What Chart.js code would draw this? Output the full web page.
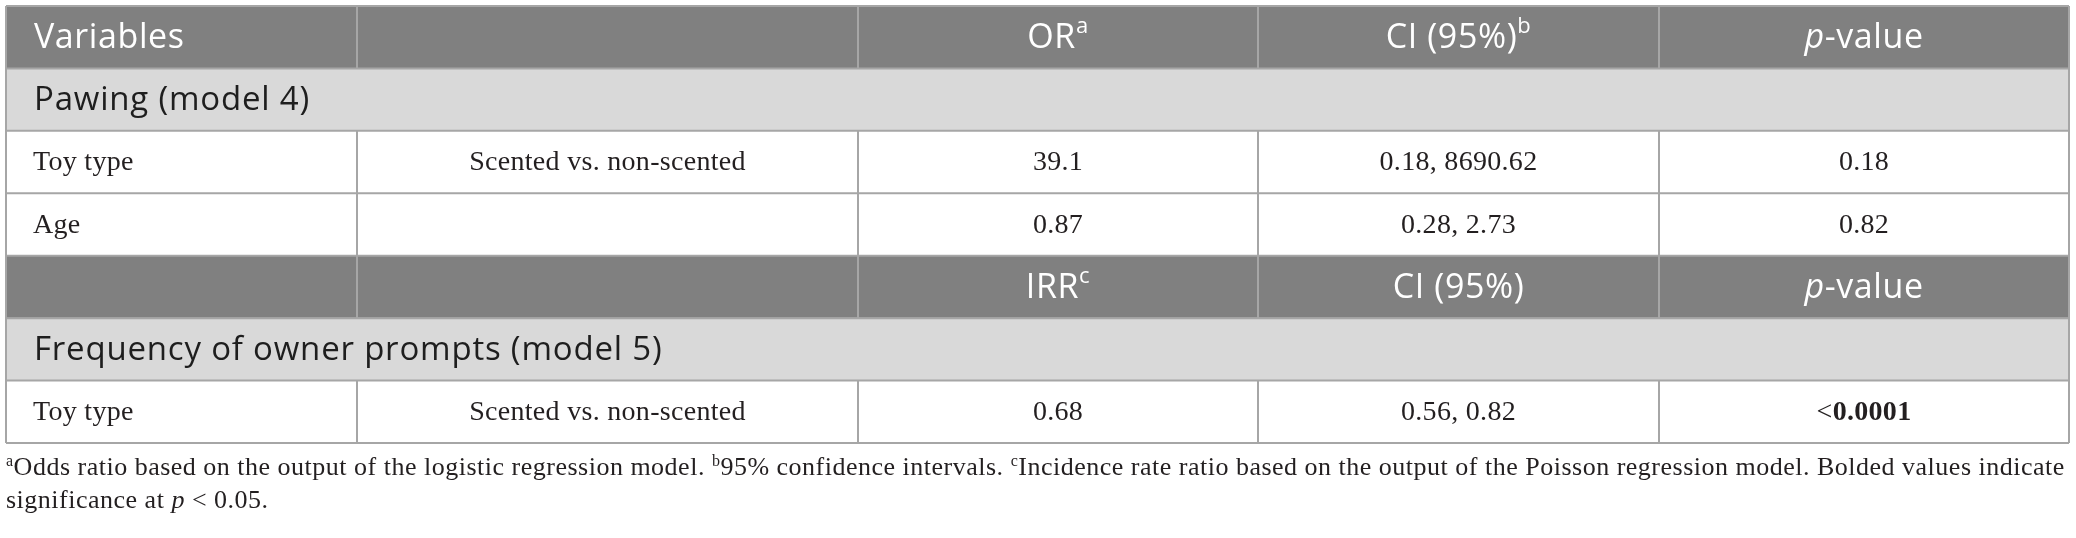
<!DOCTYPE html>
<html>
<head>
<meta charset="utf-8">
<script src="https://cdn.jsdelivr.net/npm/chart.js@4.4.1/dist/chart.umd.min.js"></script>
<style>
  html, body { margin: 0; padding: 0; background: #ffffff; }
  #wrap { position: relative; width: 2076px; height: 538px; }
  #chart { position: absolute; left: 0; top: 0; }
  #notes { position: absolute; left: 6px; top: 450px; width: 2070px;
           font-family: "Liberation Serif", "DejaVu Serif", serif; font-size: 26px;
           letter-spacing: 0.5px; line-height: 33px; color: #231f20; white-space: nowrap; }
  #notes sup { font-size: 16px; vertical-align: 9px; line-height: 0; }
</style>
</head>
<body>
<div id="wrap">
  <canvas id="chart" width="2076" height="538"></canvas>
  <div id="notes">
    <div><sup>a</sup>Odds ratio based on the output of the logistic regression model. <sup>b</sup>95% confidence intervals. <sup>c</sup>Incidence rate ratio based on the output of the Poisson regression model. Bolded values indicate</div>
    <div>significance at <i>p</i> &lt; 0.05.</div>
  </div>
</div>
<script>
// ---- data ----
const rowIds = ['head1', 'sec1', 'r1', 'r2', 'head2', 'sec2', 'r3'];
const rowKinds = ['header', 'section', 'body', 'body', 'header', 'section', 'body'];
const header1 = ['Variables', '', 'OR|a', 'CI (95%)|b', '*p*-value'];
const header2 = ['', '', 'IRR|c', 'CI (95%)', '*p*-value'];
const sections = ['Pawing (model 4)', 'Frequency of owner prompts (model 5)'];
const variables = ['Toy type', 'Age', 'Toy type'];
const comparisons = ['Scented vs. non-scented', '', 'Scented vs. non-scented'];
const estimates = ['39.1', '0.87', '0.68'];
const ciValues = ['0.18, 8690.62', '0.28, 2.73', '0.56, 0.82'];
const pValues = ['0.18', '0.82', '<|0.0001'];

// ---- layout ----
const colEdges = [0, 351, 852, 1252, 1653, 2063];
const TOTAL = colEdges[colEdges.length - 1];
const SANS = '"Open Sans", "Noto Sans", sans-serif';
const SERIF = '"Liberation Serif", "DejaVu Serif", serif';
const kindColor = { header: '#808080', section: '#d9d9d9', body: '#ffffff' };
const kindSize = { header: 34, section: 33, body: 28 };
const kindSpacing = { header: '0.6px', section: '0.8px', body: '0.3px' };
const LINE = '#a6a6a6';

// build cell table from arrays
const cells = [];
let bi = 0, si = 0, hi = 0;
rowKinds.forEach((k) => {
  if (k === 'header') { cells.push((hi++ === 0 ? header1 : header2)); }
  else if (k === 'section') { cells.push([sections[si++]]); }
  else {
    cells.push([variables[bi], comparisons[bi], estimates[bi], ciValues[bi], pValues[bi]]);
    bi++;
  }
});

function runsFor(text, kind) {
  const sz = kindSize[kind];
  const fam = kind === 'body' ? SERIF : SANS;
  const runs = [];
  if (text.startsWith('*p*')) {
    runs.push({ t: 'p', f: 'italic ' + sz + 'px ' + fam, dy: 0 });
    runs.push({ t: text.slice(3), f: sz + 'px ' + fam, dy: 0 });
  } else if (text.indexOf('|') >= 0) {
    const [a, b] = text.split('|');
    if (kind === 'header') {
      runs.push({ t: a, f: sz + 'px ' + fam, dy: 0 });
      runs.push({ t: b, f: Math.round(sz * 0.66) + 'px ' + fam, dy: -sz * 0.34 });
    } else {
      runs.push({ t: a, f: sz + 'px ' + fam, dy: 0 });
      runs.push({ t: b, f: 'bold ' + sz + 'px ' + fam, dy: 0 });
    }
  } else {
    runs.push({ t: text, f: sz + 'px ' + fam, dy: 0 });
  }
  return runs;
}

function drawRuns(ctx, runs, x, y, align, color, spacing) {
  ctx.letterSpacing = spacing;
  let w = 0;
  runs.forEach(r => { ctx.font = r.f; r.w = ctx.measureText(r.t).width; w += r.w; });
  let cx = align === 'left' ? x : x - w / 2;
  ctx.fillStyle = color;
  ctx.textBaseline = 'middle';
  ctx.textAlign = 'left';
  runs.forEach(r => { ctx.font = r.f; ctx.fillText(r.t, cx, y + r.dy); cx += r.w; });
}

const tablePlugin = {
  id: 'tablePlugin',
  afterDatasetsDraw(chart) {
    const ctx = chart.ctx;
    const xs = chart.scales.x, ys = chart.scales.y;
    const band = (ys.getPixelForValue(1) - ys.getPixelForValue(0));
    const L = xs.getPixelForValue(0), R = xs.getPixelForValue(TOTAL);
    ctx.save();
    ctx.strokeStyle = LINE;
    ctx.lineWidth = 2;
    rowIds.forEach((id, r) => {
      const yc = ys.getPixelForValue(r);
      const top = yc - band / 2, bot = yc + band / 2;
      ctx.beginPath(); ctx.moveTo(L, top); ctx.lineTo(R, top); ctx.stroke();
      if (rowKinds[r] !== 'section') {
        for (let c = 1; c < colEdges.length - 1; c++) {
          const px = Math.round(xs.getPixelForValue(colEdges[c]));
          ctx.beginPath(); ctx.moveTo(px, top); ctx.lineTo(px, bot); ctx.stroke();
        }
      }
      if (r === rowIds.length - 1) { ctx.beginPath(); ctx.moveTo(L, bot); ctx.lineTo(R, bot); ctx.stroke(); }
    });
    const t0 = ys.getPixelForValue(0) - band / 2, b0 = ys.getPixelForValue(rowIds.length - 1) + band / 2;
    ctx.beginPath(); ctx.moveTo(L, t0); ctx.lineTo(L, b0); ctx.stroke();
    ctx.beginPath(); ctx.moveTo(R, t0); ctx.lineTo(R, b0); ctx.stroke();
    cells.forEach((row, r) => {
      const kind = rowKinds[r];
      const yc = ys.getPixelForValue(r) + 1;
      const color = kind === 'header' ? '#ffffff' : (kind === 'section' ? '#1e1e1e' : '#231f20');
      row.forEach((txt, c) => {
        if (!txt) return;
        const runs = runsFor(txt, kind);
        if (c === 0) {
          drawRuns(ctx, runs, xs.getPixelForValue(colEdges[0]) + (kind === 'body' ? 27 : 28), yc, 'left', color, kindSpacing[kind]);
        } else {
          const mid = xs.getPixelForValue((colEdges[c] + colEdges[c + 1]) / 2);
          drawRuns(ctx, runs, mid, yc, 'center', color, kindSpacing[kind]);
        }
      });
    });
    ctx.restore();
  }
};

new Chart(document.getElementById('chart'), {
  type: 'bar',
  data: {
    labels: rowIds,
    datasets: [{
      data: rowIds.map(() => [0, TOTAL]),
      backgroundColor: rowKinds.map(k => kindColor[k]),
      borderWidth: 0,
      barPercentage: 1,
      categoryPercentage: 1
    }]
  },
  options: {
    indexAxis: 'y',
    responsive: false,
    animation: false,
    layout: { padding: { left: 6, right: 7, top: 6, bottom: 95 } },
    plugins: { legend: { display: false }, tooltip: { enabled: false } },
    scales: {
      x: { type: 'linear', min: 0, max: TOTAL, display: false },
      y: { type: 'category', display: false, offset: true }
    }
  },
  plugins: [tablePlugin]
});
</script>
</body>
</html>
